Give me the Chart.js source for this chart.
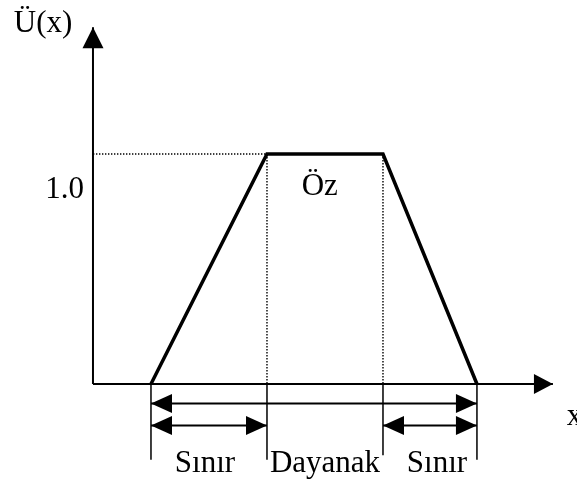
<!DOCTYPE html>
<html>
<head>
<meta charset="utf-8">
<script src="https://cdn.jsdelivr.net/npm/chart.js@4"></script>
<style>
    html, body { margin: 0; padding: 0; background: #fff; }
    #box { width: 577px; height: 484px; }
</style>
</head>
<body>
<div id="box"><canvas id="myChart"></canvas></div>
<script>
// trapezoid membership function: a, b, c, d on the x axis
const trapX = [1, 3, 5, 6.62];
const trapY = [0, 1, 1, 0];
const coreLevel = 1.0;
const axisTopY = 1.552;
const axisEndX = 7.93;
const tickLabel = '1.0';
const coreLabel = 'Öz';
const axisNames = ['Ü(x)', 'x'];
const spanNames = ['Sınır', 'Dayanak', 'Sınır'];

const a = trapX[0], b = trapX[1], c = trapX[2], d = trapX[3];
const row1 = -0.085, row2 = -0.181, tickBottom = -0.33;

function seg(p, q, opts) {
    return Object.assign({
        data: [p, q],
        showLine: true,
        borderColor: '#000',
        backgroundColor: '#000',
        borderWidth: 1.5,
        pointRadius: 0
    }, opts || {});
}

const dotted = {borderWidth: 1.4, borderDash: [1.4, 1.6]};

const datasets = [
    // axes
    seg({x: 0, y: 0}, {x: 0, y: axisTopY}, {borderWidth: 2, arrowEnd: [21, 21]}),
    seg({x: 0, y: 0}, {x: axisEndX, y: 0}, {borderWidth: 2, arrowEnd: [19, 20]}),
    // dotted helpers
    seg({x: 0, y: coreLevel}, {x: b, y: coreLevel}, dotted),
    seg({x: b, y: coreLevel}, {x: b, y: 0}, dotted),
    seg({x: c, y: coreLevel}, {x: c, y: 0}, dotted),
    // ticks below the axis
    seg({x: a, y: 0}, {x: a, y: tickBottom}),
    seg({x: b, y: 0}, {x: b, y: tickBottom}),
    seg({x: c, y: 0}, {x: c, y: tickBottom + 0.02}),
    seg({x: d, y: 0}, {x: d, y: tickBottom}),
    // dimension arrows
    seg({x: a, y: row1}, {x: d, y: row1}, {borderWidth: 2, arrowStart: [21, 19], arrowEnd: [21, 19]}),
    seg({x: a, y: row2}, {x: b, y: row2}, {borderWidth: 2, arrowStart: [21, 19], arrowEnd: [21, 19]}),
    seg({x: c, y: row2}, {x: d, y: row2}, {borderWidth: 2, arrowStart: [21, 19], arrowEnd: [21, 19]}),
    // the trapezoid itself
    {
        data: trapX.map((x, i) => ({x: x, y: trapY[i]})),
        showLine: true,
        borderColor: '#000',
        borderWidth: 3.5,
        pointRadius: 0,
        borderJoinStyle: 'miter'
    }
];

const arrowPlugin = {
    id: 'arrows',
    afterDatasetsDraw(chart) {
        const ctx = chart.ctx;
        const xs = chart.scales.x, ys = chart.scales.y;
        chart.data.datasets.forEach(ds => {
            const pts = ds.data.map(p => [xs.getPixelForValue(p.x), ys.getPixelForValue(p.y)]);
            const draw = (tip, from, size) => {
                const ang = Math.atan2(tip[1] - from[1], tip[0] - from[0]);
                const L = size[0], W = size[1] / 2;
                ctx.save();
                ctx.translate(tip[0], tip[1]);
                ctx.rotate(ang);
                ctx.beginPath();
                ctx.moveTo(0, 0);
                ctx.lineTo(-L, -W);
                ctx.lineTo(-L, W);
                ctx.closePath();
                ctx.fillStyle = '#000';
                ctx.fill();
                ctx.restore();
            };
            if (ds.arrowEnd) draw(pts[pts.length - 1], pts[0], ds.arrowEnd);
            if (ds.arrowStart) draw(pts[0], pts[pts.length - 1], ds.arrowStart);
        });
    }
};

const texts = [
    {t: axisNames[0], x: -0.86, y: 1.53, align: 'center'},
    {t: tickLabel, x: -0.155, y: 0.809, align: 'right'},
    {t: coreLabel, x: 3.91, y: 0.822, align: 'center'},
    {t: axisNames[1], x: 8.17, y: -0.178, align: 'left'},
    {t: spanNames[0], x: 1.93, y: -0.383, align: 'center'},
    {t: spanNames[1], x: 4.0, y: -0.383, align: 'center'},
    {t: spanNames[2], x: 5.93, y: -0.383, align: 'center'}
];

const textPlugin = {
    id: 'texts',
    afterDraw(chart) {
        const ctx = chart.ctx;
        const xs = chart.scales.x, ys = chart.scales.y;
        ctx.save();
        ctx.fillStyle = '#000';
        ctx.font = '31px "Liberation Serif", "Times New Roman", serif';
        ctx.textBaseline = 'alphabetic';
        texts.forEach(l => {
            ctx.textAlign = l.align;
            ctx.fillText(l.t, xs.getPixelForValue(l.x), ys.getPixelForValue(l.y));
        });
        ctx.restore();
    }
};

new Chart(document.getElementById('myChart'), {
    type: 'scatter',
    data: {datasets: datasets},
    options: {
        responsive: true,
        maintainAspectRatio: false,
        animation: false,
        layout: {padding: 0},
        plugins: {legend: {display: false}, tooltip: {enabled: false}},
        scales: {
            x: {type: 'linear', display: false, min: -1.603, max: 8.345},
            y: {type: 'linear', display: false, min: -0.435, max: 1.67}
        }
    },
    plugins: [arrowPlugin, textPlugin]
});
</script>
</body>
</html>
